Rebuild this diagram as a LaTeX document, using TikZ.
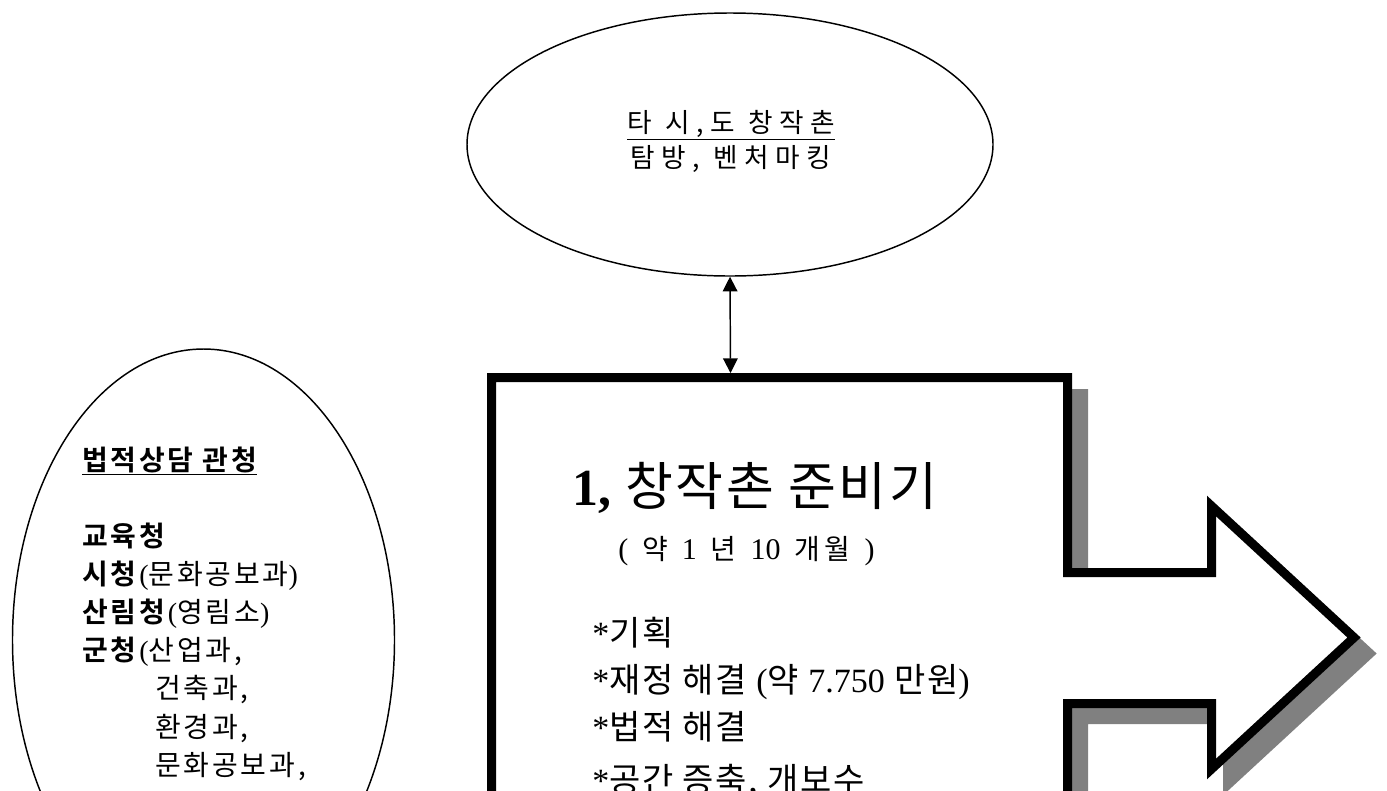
\documentclass[tikz,border=0pt]{standalone}
\usepackage{fontspec}
\setmainfont{Liberation Serif}
\newfontfamily\kr{Noto Sans CJK KR}[BoldFont={Noto Sans CJK KR Bold}]
\newfontfamily\krtop{Noto Sans CJK KR}[LetterSpace=24, WordSpace=1.1]
\newfontfamily\krsub{Noto Sans CJK KR}[LetterSpace=16, WordSpace=1.3]
\newfontfamily\krtitle{Noto Sans CJK KR}[LetterSpace=5, WordSpace=1]
\newcommand\latn[1]{{\rmfamily #1}}
\usetikzlibrary{arrows.meta,shapes.geometric}
\definecolor{shadowgray}{HTML}{808080}
\tikzset{
  oval/.style={draw=black, line width=1.1pt, ellipse, inner sep=0pt},
  txt/.style={inner sep=0pt, anchor=base west},
  ctxt/.style={inner sep=0pt, anchor=base},
  bigarrow/.style={line width=6.75pt, miter limit=10},
  link/.style={line width=1.1pt, {Triangle[width=11pt,length=11pt]}-{Triangle[width=11pt,length=11pt]}},
}
\begin{document}
\begin{tikzpicture}[x=0.75pt,y=-0.75pt]
\useasboundingbox (0,0) rectangle (1387,790);
\clip (0,0) rectangle (1387,790);
\fill[white] (0,0) rectangle (1387,790);

% top ellipse
\node[oval, minimum width=394.5pt, minimum height=197.25pt] (top) at (730,144.5) {};
\node[ctxt, font=\krtop\fontsize{20}{24}\selectfont] (top1) at (731,132) {\underline{타 시,도 창작촌}};
\node[ctxt, font=\krtop\fontsize{20}{24}\selectfont] (top2) at (731,167) {탐방, 벤처마킹};

% left ellipse
\node[oval, minimum width=286.5pt, minimum height=436.5pt] (left) at (203.5,640) {};
\begin{scope}[every node/.style={txt, font=\kr\fontsize{21}{24}\selectfont\addfontfeatures{LetterSpace=10}}]
\node (l1) at (82,470) {\bfseries\underline{법적상담 관청}};
\node (l2) at (82,546) {\bfseries 교육청};
\node (l3) at (82,584) {\textbf{시청}\latn{(}문화공보과\latn{)}};
\node (l4) at (82,622) {\textbf{산림청}\latn{(}영림소\latn{)}};
\node (l5) at (82,660) {\textbf{군청}\latn{(}산업과,};
\node (l6) at (155,698) {건축과,};
\node (l7) at (155,737) {환경과,};
\node (l8) at (155,775) {문화공보과,};
\end{scope}

% big box arrow with shadow
\def\boxpath{(491.5,377.5) -- (1067.5,377.5) -- (1067.5,572.5) -- (1211.5,572.5) -- (1211.5,506) -- (1354,637.5) -- (1211.5,769) -- (1211.5,703.5) -- (1067.5,703.5) -- (1067.5,860) -- (491.5,860) -- cycle}
\path[bigarrow, draw=shadowgray, fill=shadowgray, shift={(16,16)}] \boxpath;
\path[bigarrow, draw=black, fill=white] \boxpath;
\coordinate (boxtop) at (730.5,373);

\node[txt, font=\krtitle\fontsize{39}{42}\selectfont] (title) at (572,505) {\latn{\fontsize{39}{42}\selectfont\bfseries 1,} 창작촌 준비기};
\node[txt, font=\krsub\fontsize{21}{24}\selectfont] (sub) at (618,559) {\latn{\fontsize{22.5}{24}\selectfont(} 약 \latn{\fontsize{22.5}{24}\selectfont 1} 년 \latn{\fontsize{22.5}{24}\selectfont 10} 개월 \latn{\fontsize{22.5}{24}\selectfont)}};
\begin{scope}[every node/.style={txt, font=\kr\fontsize{25.5}{30}\selectfont\addfontfeatures{LetterSpace=5}}]
\node (i1) at (592,645) {\latn{*}기획};
\node (i2) at (592,692) {\latn{*}재정 해결 \latn{(}약 \latn{7.750} 만원\latn{)}};
\node (i3) at (592,739) {\latn{*}법적 해결};
\node (i4) at (592,792) {\latn{*}공간 증축, 개보수};
\end{scope}

% connector
\draw[link] (top.south) -- (boxtop);
\end{tikzpicture}
\end{document}
